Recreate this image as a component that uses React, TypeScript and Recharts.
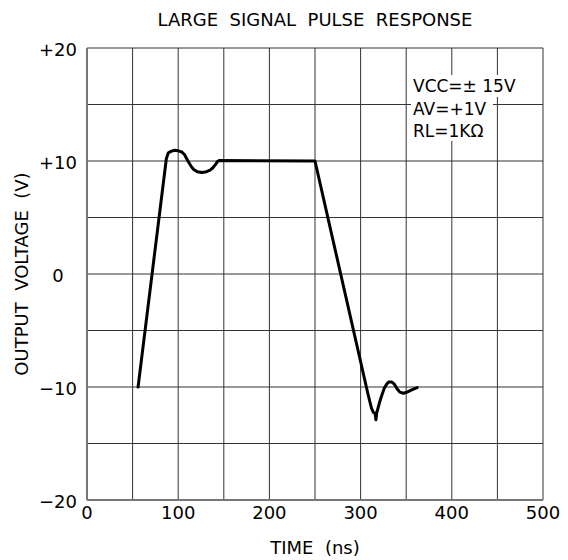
import React from "react";
import { LineChart, Line, XAxis, YAxis, CartesianGrid, Customized } from "recharts";

// time in ns
const timeNs = [
  56, 87, 89, 92, 96, 100, 104, 107, 109, 111, 114, 117, 121, 126, 131, 135, 138, 141, 143, 145,
  250, 308, 312, 314, 316, 316.8, 317.6, 319, 321, 323, 326, 329, 331, 334, 337, 340, 343, 347, 351, 356, 362,
];
// output voltage in V
const outputV = [
  -10, 10.2, 10.7, 10.85, 10.95, 10.9, 10.8, 10.55, 10.25, 9.95, 9.55, 9.25, 9.05, 8.98, 9.05, 9.2, 9.4, 9.7, 9.95, 10.05,
  10, -10.6, -11.9, -12.25, -12.35, -12.9, -12.3, -11.9, -11.3, -10.8, -10.1, -9.7, -9.55, -9.55, -9.75, -10.15, -10.45, -10.55, -10.45, -10.25, -10.05,
];

const xTicks = [0, 50, 100, 150, 200, 250, 300, 350, 400, 450, 500];
const yTicks = [-20, -15, -10, -5, 0, 5, 10, 15, 20];

const notes = ["VCC=\u00b1 15V", "AV=+1V", "RL=1K\u03a9"];
const noteWidths = [111, 82, 76];

const FONT = "'DejaVu Sans', sans-serif";

const data = timeNs.map((t, i) => ({ t, v: outputV[i] }));

const fmtY = (v: number) => (v > 0 ? `+${v}` : v < 0 ? `\u2212${Math.abs(v)}` : "0");

const XTick = (props: any) => {
  const { x, y, payload } = props;
  if (payload.value % 100 !== 0) return null;
  return (
    <text x={x} y={y + 11} textAnchor="middle" fontSize={18} fontFamily={FONT} fill="#000">
      {payload.value}
    </text>
  );
};

const YTick = (props: any) => {
  const { y, payload } = props;
  if (payload.value % 10 !== 0) return null;
  return (
    <text x={50} y={y + 8} textAnchor="middle" fontSize={18} fontFamily={FONT} fill="#000">
      {fmtY(payload.value)}
    </text>
  );
};

const Texts = () => (
  <g fontFamily={FONT} fill="#000">
    <text x={307} y={18} textAnchor="middle" fontSize={18} style={{ whiteSpace: "pre" }}>
      {"LARGE  SIGNAL  PULSE  RESPONSE"}
    </text>
    <text x={307} y={546} textAnchor="middle" fontSize={18} style={{ whiteSpace: "pre" }}>
      {"TIME  (ns)"}
    </text>
    <text
      x={20}
      y={266}
      textAnchor="middle"
      fontSize={18}
      transform="rotate(-90 20 266)"
      style={{ whiteSpace: "pre" }}
    >
      {"OUTPUT  VOLTAGE  (V)"}
    </text>
    {notes.map((n, i) => (
      <g key={n}>
        <rect x={403} y={67 + i * 22} width={noteWidths[i]} height={22} fill="#fff" />
        <text x={405} y={84 + i * 22.5} fontSize={17}>
          {n}
        </text>
      </g>
    ))}
  </g>
);

export default function App() {
  return (
    <LineChart
      width={552}
      height={552}
      data={data}
      margin={{ top: 40, right: 17, left: 0, bottom: 0 }}
    >
      <CartesianGrid stroke="#333" strokeWidth={1} />
      <XAxis
        dataKey="t"
        type="number"
        domain={[0, 500]}
        ticks={xTicks}
        tick={<XTick />}
        tickLine={false}
        axisLine={{ stroke: "#777", strokeWidth: 2 }}
        height={60}
        interval={0}
      />
      <YAxis
        type="number"
        domain={[-20, 20]}
        ticks={yTicks}
        tick={<YTick />}
        tickLine={false}
        axisLine={{ stroke: "#777", strokeWidth: 2 }}
        width={79}
        interval={0}
      />
      <Line
        dataKey="v"
        type="linear"
        stroke="#000"
        strokeWidth={3}
        dot={false}
        isAnimationActive={false}
        strokeLinejoin="round"
        strokeLinecap="round"
      />
      <Customized component={Texts} />
    </LineChart>
  );
}
